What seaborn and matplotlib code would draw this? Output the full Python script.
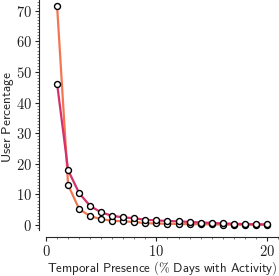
import matplotlib
matplotlib.use("Agg")
import matplotlib.pyplot as plt
import seaborn as sns
import pandas as pd
from matplotlib.ticker import MultipleLocator, FuncFormatter

days = list(range(1, 21))
series_a = [71.6, 13.1, 5.2, 2.9, 1.9, 1.4, 1.2, 1.0, 0.6, 0.5, 0.4, 0.35, 0.3, 0.25, 0.2, 0.15, 0.12, 0.1, 0.08, 0.05]
series_b = [46.2, 17.9, 10.4, 6.2, 4.1, 3.0, 2.5, 2.2, 1.7, 1.5, 1.3, 1.2, 1.0, 0.8, 0.7, 0.5, 0.4, 0.3, 0.25, 0.2]
names = ["A", "B"]
colors = ["#f37651", "#d5306c"]

df = pd.DataFrame({
    "x": days * 2,
    "y": series_a + series_b,
    "group": [names[0]] * len(days) + [names[1]] * len(days),
})

sns.set_style("ticks")
plt.rcParams["font.family"] = ["Liberation Sans", "DejaVu Sans"]
plt.rcParams["mathtext.fontset"] = "cm"

fig = plt.figure(figsize=(2.79, 2.76), dpi=100)
ax = fig.add_axes([0.165, 0.167, 0.835, 0.833])
sns.lineplot(data=df, x="x", y="y", hue="group", palette=colors, marker="o",
             markersize=4.3, markerfacecolor="white", markeredgecolor="black",
             markeredgewidth=1.0, linewidth=1.6, legend=False, ax=ax)
ax.set_xlim(0, 21.1)
ax.set_ylim(-1.6, 73.5)
ax.xaxis.set_major_locator(MultipleLocator(10))
ax.xaxis.set_minor_locator(MultipleLocator(1))
ax.yaxis.set_major_locator(MultipleLocator(10))
ax.yaxis.set_minor_locator(MultipleLocator(1))
fmt = FuncFormatter(lambda v, p: r"$%d$" % round(v))
ax.xaxis.set_major_formatter(fmt)
ax.yaxis.set_major_formatter(fmt)
ax.tick_params(which="major", length=3, width=0.8, labelsize=10.5, pad=2, colors="#222222")
ax.tick_params(which="minor", length=1.5, width=0.5, colors="#444444")
ax.set_xlabel(r"$\mathsf{Temporal\ Presence\ (\%\ Days\ with\ Activity)}$", fontsize=9.3, labelpad=0)
ax.set_ylabel(r"$\mathsf{User\ Percentage}$", fontsize=9.6)
sns.despine(ax=ax, offset=5)
ax.yaxis.set_label_coords(-0.127, 0.49)
ax.xaxis.set_label_coords(0.5, -0.128)
fig.savefig("out.png", dpi=100)
